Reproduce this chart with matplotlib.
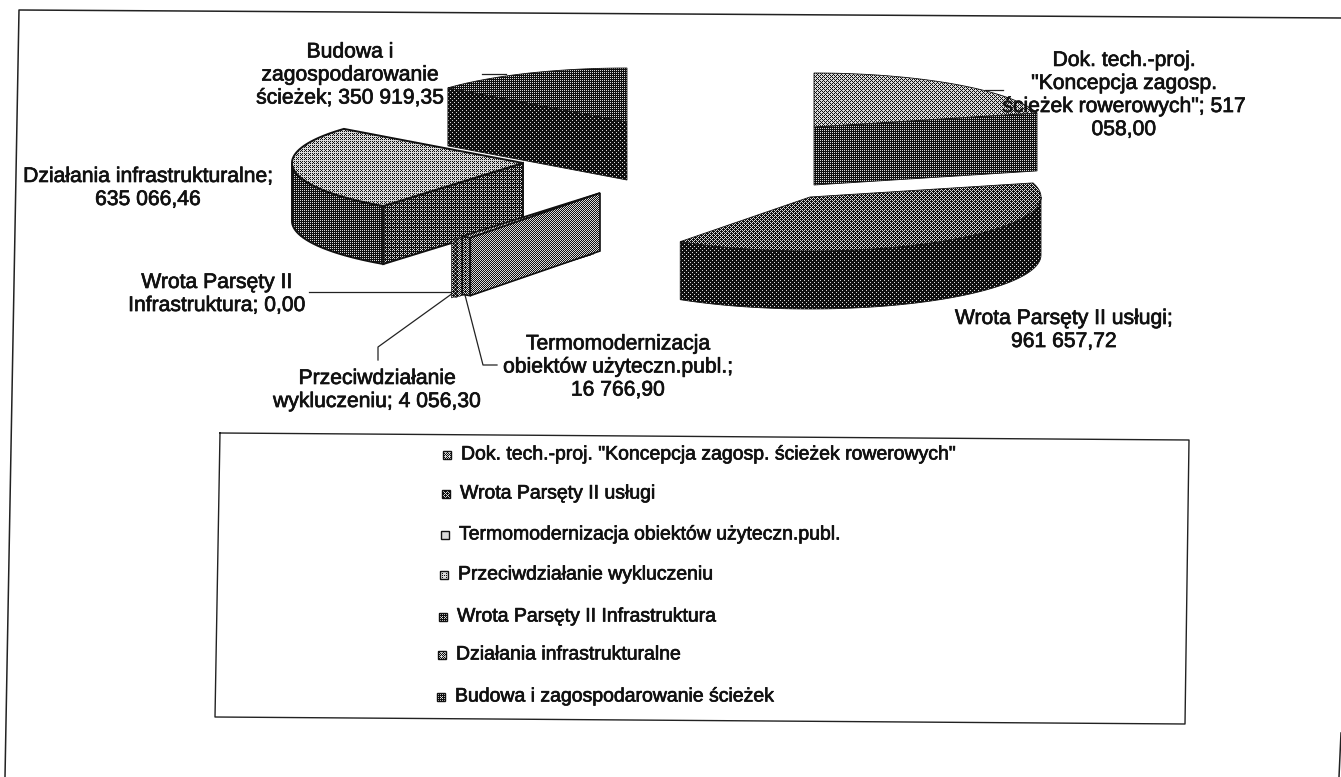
import numpy as np
import matplotlib
matplotlib.use('Agg')
import matplotlib.pyplot as plt
import matplotlib.patheffects as pe
from matplotlib.patches import Polygon

plt.rcParams['font.family'] = ['Liberation Sans', 'DejaVu Sans']

W, H = 1341, 777

categories = ['Dok. tech.-proj. "Koncepcja zagosp. ścieżek rowerowych"',
              'Wrota Parsęty II usługi',
              'Termomodernizacja obiektów użyteczn.publ.',
              'Przeciwdziałanie wykluczeniu',
              'Wrota Parsęty II Infrastruktura',
              'Działania infrastrukturalne',
              'Budowa i zagospodarowanie ścieżek']
values = [517058.00, 961657.72, 16766.90, 4056.30, 0.00, 635066.46, 350919.35]

# where each exploded slice has its tip, in pixels
tips = [(814, 127), (810, 197), (600, 193), (594, 196), (591, 197), (523, 163), (627, 122)]
# grey level of the scanned halftone, top and side of every slice
top_grey = [0.62, 0.38, 0.55, 0.45, 0.35, 0.66, 0.24]
side_grey = [0.24, 0.12, 0.50, 0.42, 0.32, 0.30, 0.14]
edge_lw = [0.6, 0.6, 1.2, 0.3, 0.3, 1.4, 0.6]
draw_order = [6, 0, 1, 5, 4, 3, 2]

RX, RY, DEPTH = 231, 54, 58

BAYER = np.array([[0, 8, 2, 10], [12, 4, 14, 6], [3, 11, 1, 9], [15, 7, 13, 5]]) / 16 + 1 / 32
INK = [pe.withStroke(linewidth=0.5, foreground='#111111')]


def ell(tip, ang):
    # angle counted clockwise from 12 o'clock, y goes down
    return tip[0] + RX * np.sin(ang), tip[1] - RY * np.cos(ang)


def halftone(ax, pts, grey, z, lw):
    pts = np.array(pts, dtype=float)
    x0, y0 = np.floor(pts.min(axis=0)).astype(int)
    x1, y1 = np.ceil(pts.max(axis=0)).astype(int) + 1
    yy, xx = np.indices((y1 - y0, x1 - x0))
    tex = np.where(grey > BAYER[(yy + y0) % 4, (xx + x0) % 4], 0.85, 0.06)
    im = ax.imshow(tex, cmap='gray', vmin=0, vmax=1, extent=(x0, x1, y1, y0), aspect='auto',
                   interpolation='nearest', zorder=z)
    poly = Polygon(pts, closed=True, fill=False, edgecolor='#111111', linewidth=lw, zorder=z + 0.05)
    ax.add_patch(poly)
    im.set_clip_path(poly)


def draw_slice(ax, tip, a, b, top, side, z, lw):
    ts = np.linspace(a, b, 80)
    x, y = ell(tip, ts)
    # radial walls that look towards the viewer
    if np.sin(a) < -1e-6:
        e = ell(tip, a)
        halftone(ax, [tip, e, (e[0], e[1] + DEPTH), (tip[0], tip[1] + DEPTH)], side, z, lw)
    if np.sin(b) > 1e-6:
        e = ell(tip, b)
        halftone(ax, [tip, e, (e[0], e[1] + DEPTH), (tip[0], tip[1] + DEPTH)], side, z, lw)
    # front part of the rim
    lo, hi = max(a, np.pi / 2), min(b, 3 * np.pi / 2)
    if hi > lo:
        tr = np.linspace(lo, hi, 80)
        rx, ry = ell(tip, tr)
        halftone(ax, list(zip(rx, ry)) + list(zip(rx[::-1], ry[::-1] + DEPTH)), side * 0.9, z + 0.01, lw)
    if b > a:
        halftone(ax, [tip] + list(zip(x, y)), top, z + 0.1, lw)


fig = plt.figure(figsize=(W / 100, H / 100), dpi=100)
ax = fig.add_axes([0, 0, 1, 1])

# outer frame, the scan is slightly skewed
ax.plot([5, 19, 1341], [777, 10, 18], color='#222222', lw=1.1, zorder=1)
ax.plot([1341, 1339], [733, 777], color='#222222', lw=1.1, zorder=1)

ang = np.concatenate([[0], np.cumsum(values)]) / sum(values) * 2 * np.pi
for i in draw_order:
    draw_slice(ax, tips[i], ang[i], ang[i + 1], top_grey[i], side_grey[i], 5 + draw_order.index(i), edge_lw[i])

label_fs = 15.2
leg_fs = 14
# the Budowa label sits behind its slice in the reference, the Dok label in front
labels = [('Budowa i\nzagospodarowanie\nścieżek; 350 919,35', 350, 75, 3),
          ('Dok. tech.-proj.\n"Koncepcja zagosp.\nścieżek rowerowych"; 517\n058,00', 1124, 95, 20),
          ('Działania infrastrukturalne;\n635 066,46', 148, 188, 3),
          ('Wrota Parsęty II\nInfrastruktura; 0,00', 217, 294, 3),
          ('Przeciwdziałanie\nwykluczeniu; 4 056,30', 377, 390, 3),
          ('Termomodernizacja\nobiektów użyteczn.publ.;\n16 766,90', 618, 367, 3),
          ('Wrota Parsęty II usługi;\n961 657,72', 1064, 330, 3)]
for txt, x, y, z in labels:
    ax.text(x, y, txt, ha='center', va='center', fontsize=label_fs, linespacing=1.27, color='#111111',
            zorder=z, path_effects=INK)

# leader lines
leaders = [([482, 506], [74, 74]),
           ([985, 1003], [90, 90]),
           ([309, 452], [292, 292]),
           ([378, 378, 453], [360, 347, 293]),
           ([497, 483, 465], [365, 365, 295])]
for lx, ly in leaders:
    ax.plot(lx, ly, color='#222222', lw=0.9, zorder=4)

# legend box
ax.plot([220, 215, 1185, 1189, 220], [433, 717, 724, 440, 433], color='#222222', lw=1.0, zorder=2)
leg_y = [455, 494, 535, 575, 617, 655, 697]
leg_grey = [0.55, 0.35, 1.0, 0.8, 0.3, 0.55, 0.3]
for i, name in enumerate(categories):
    xs = 443 - i
    pts = [(xs, leg_y[i] - 4), (xs + 8, leg_y[i] - 4), (xs + 8, leg_y[i] + 4), (xs, leg_y[i] + 4)]
    halftone(ax, pts, leg_grey[i], 3, 1.0)
    ax.text(xs + 18, leg_y[i], name, ha='left', va='center', fontsize=leg_fs, color='#111111', zorder=3,
            path_effects=INK)

ax.set_xlim(0, W)
ax.set_ylim(H, 0)
ax.axis('off')

fig.savefig('out.png', dpi=100)
